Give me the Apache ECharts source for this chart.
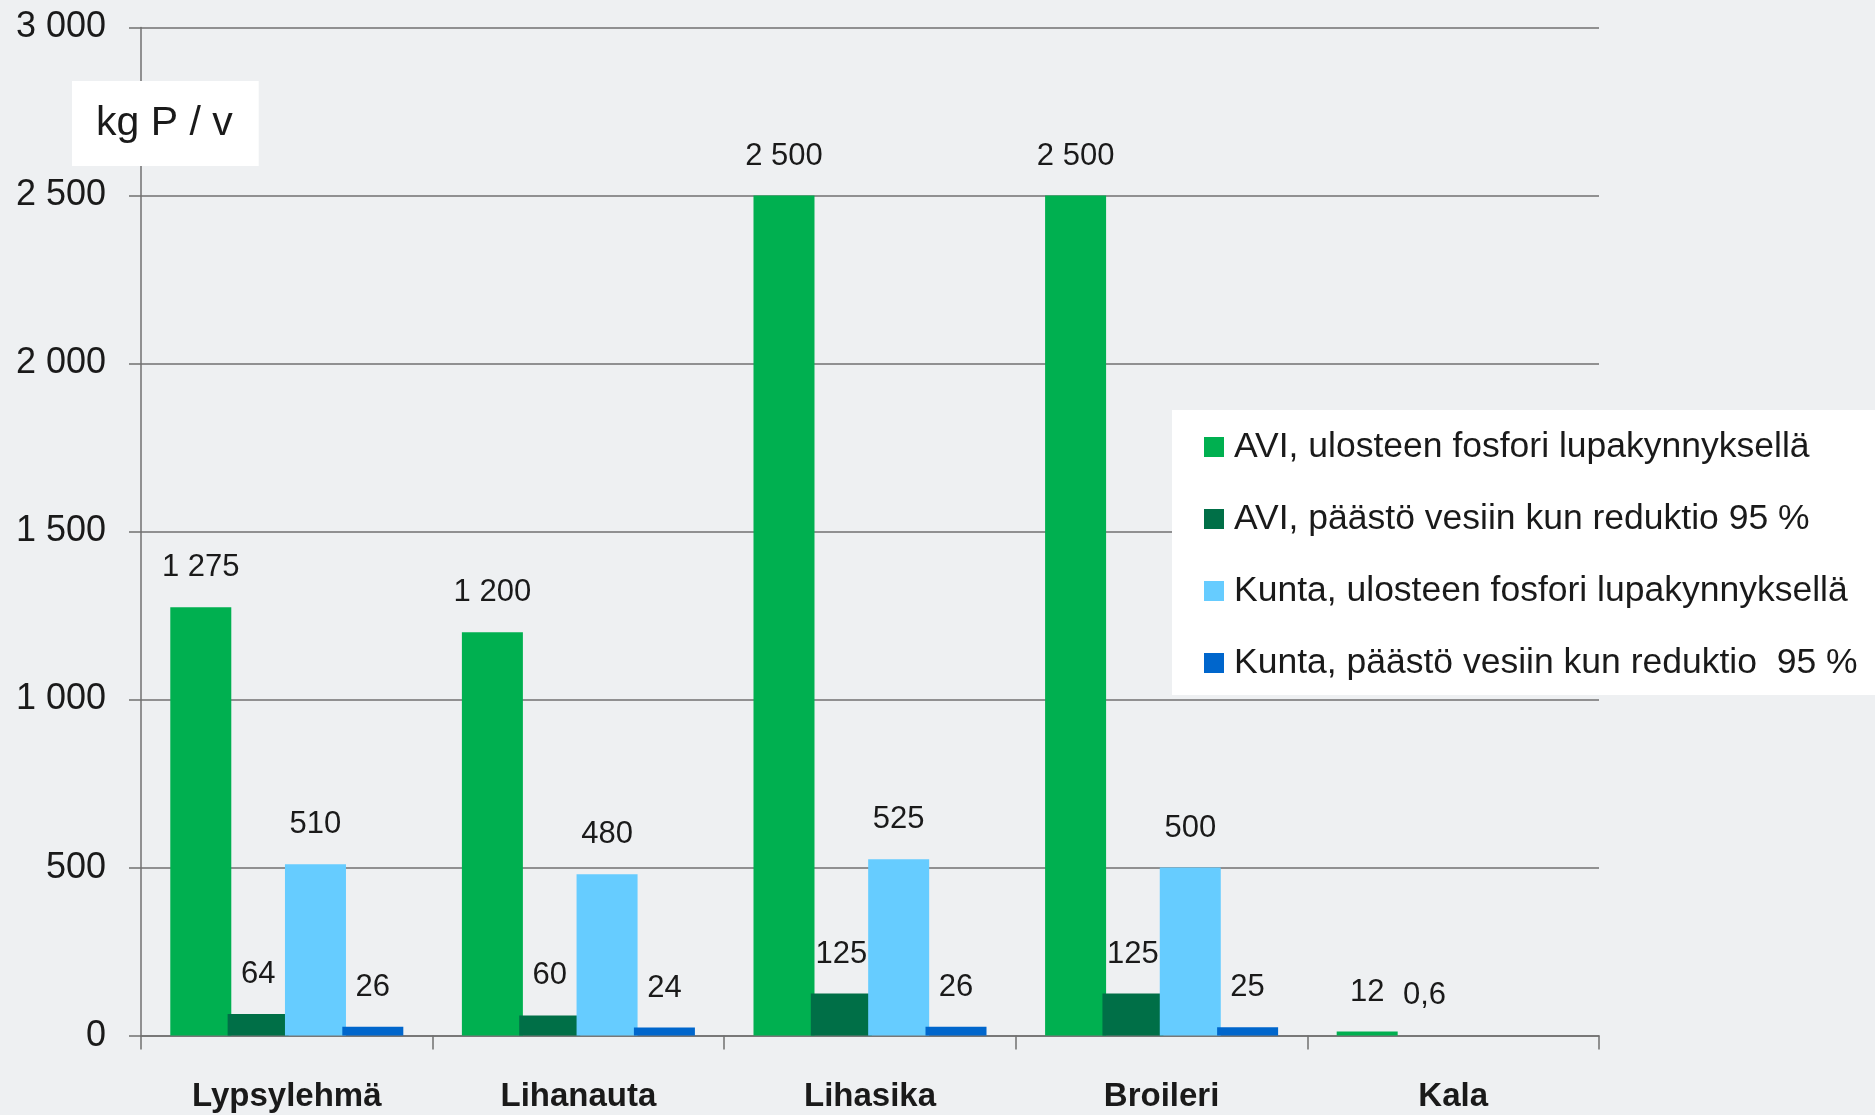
<!DOCTYPE html>
<html>
<head>
<meta charset="utf-8">
<script src="https://cdn.jsdelivr.net/npm/echarts@6/dist/echarts.min.js"></script>
<style>
html,body{margin:0;padding:0;background:#eef0f2;}
#c{width:1875px;height:1115px;}
</style>
</head>
<body>
<div id="c"></div>
<script>
const categories = ['Lypsylehmä', 'Lihanauta', 'Lihasika', 'Broileri', 'Kala'];
const seriesNames = [
  'AVI, ulosteen fosfori lupakynnyksellä',
  'AVI, päästö vesiin kun reduktio 95 %',
  'Kunta, ulosteen fosfori lupakynnyksellä',
  'Kunta, päästö vesiin kun reduktio  95 %'
];
const aviUloste = [1275, 1200, 2500, 2500, 12];
const aviPaasto = [64, 60, 125, 125, 0.6];
const kuntaUloste = [510, 480, 525, 500, null];
const kuntaPaasto = [26, 24, 26, 25, null];
const colors = ['#00b050', '#006f47', '#66ccff', '#0066cc'];
const yTicks = { min: 0, max: 3000, interval: 500 };

function fmt(v) {
  const s = String(v).replace('.', ',');
  const parts = s.split(',');
  parts[0] = parts[0].replace(/\B(?=(\d{3})+(?!\d))/g, ' ');
  return parts.join(',');
}

const font = '"Liberation Sans", Arial, sans-serif';
const allData = [aviUloste, aviPaasto, kuntaUloste, kuntaPaasto];

const chart = echarts.init(document.getElementById('c'));
chart.setOption({
  backgroundColor: '#eef0f2',
  animation: false,
  textStyle: { fontFamily: font },
  title: {
    text: 'kg P / v',
    left: 72, top: 81,
    backgroundColor: '#ffffff',
    padding: [22, 26, 22, 24],
    textStyle: { fontFamily: font, fontSize: 41, fontWeight: 'normal', color: '#1a1a1a' }
  },
  legend: {
    orient: 'vertical',
    left: 1172, top: 410,
    backgroundColor: '#ffffff',
    padding: [19, 40, 14, 32],
    itemGap: 36,
    itemWidth: 20, itemHeight: 20,
    icon: 'rect',
    data: seriesNames,
    textStyle: { fontFamily: font, fontSize: 35.5, color: '#1a1a1a', padding: [0, 0, 0, 5] }
  },
  grid: { left: 141, right: 276, top: 27.5, bottom: 79.4, containLabel: false },
  xAxis: {
    type: 'category',
    data: categories,
    axisLine: { lineStyle: { color: '#707070', width: 1.5 } },
    axisTick: { show: true, length: 14, lineStyle: { color: '#707070', width: 1.5 } },
    axisLabel: { margin: 45, fontFamily: font, fontSize: 33, fontWeight: 'bold', color: '#1a1a1a' }
  },
  yAxis: {
    type: 'value',
    min: yTicks.min, max: yTicks.max, interval: yTicks.interval,
    axisLine: { show: true, lineStyle: { color: '#707070', width: 1.5 } },
    axisTick: { show: true, length: 12, lineStyle: { color: '#707070', width: 1.5 } },
    splitLine: { show: true, lineStyle: { color: '#707070', width: 1.5 } },
    axisLabel: { margin: 35, fontFamily: font, fontSize: 36, color: '#1a1a1a', formatter: v => fmt(v) }
  },
  series: seriesNames.map((name, i) => ({
    name: name,
    type: 'bar',
    data: allData[i],
    barWidth: 61,
    barGap: '-6%',
    itemStyle: { color: colors[i] },
    label: {
      show: true,
      position: 'top',
      distance: 24,
      fontFamily: font,
      fontSize: 31,
      color: '#1a1a1a',
      formatter: p => (p.value == null ? '' : fmt(p.value))
    }
  }))
});
</script>
</body>
</html>
